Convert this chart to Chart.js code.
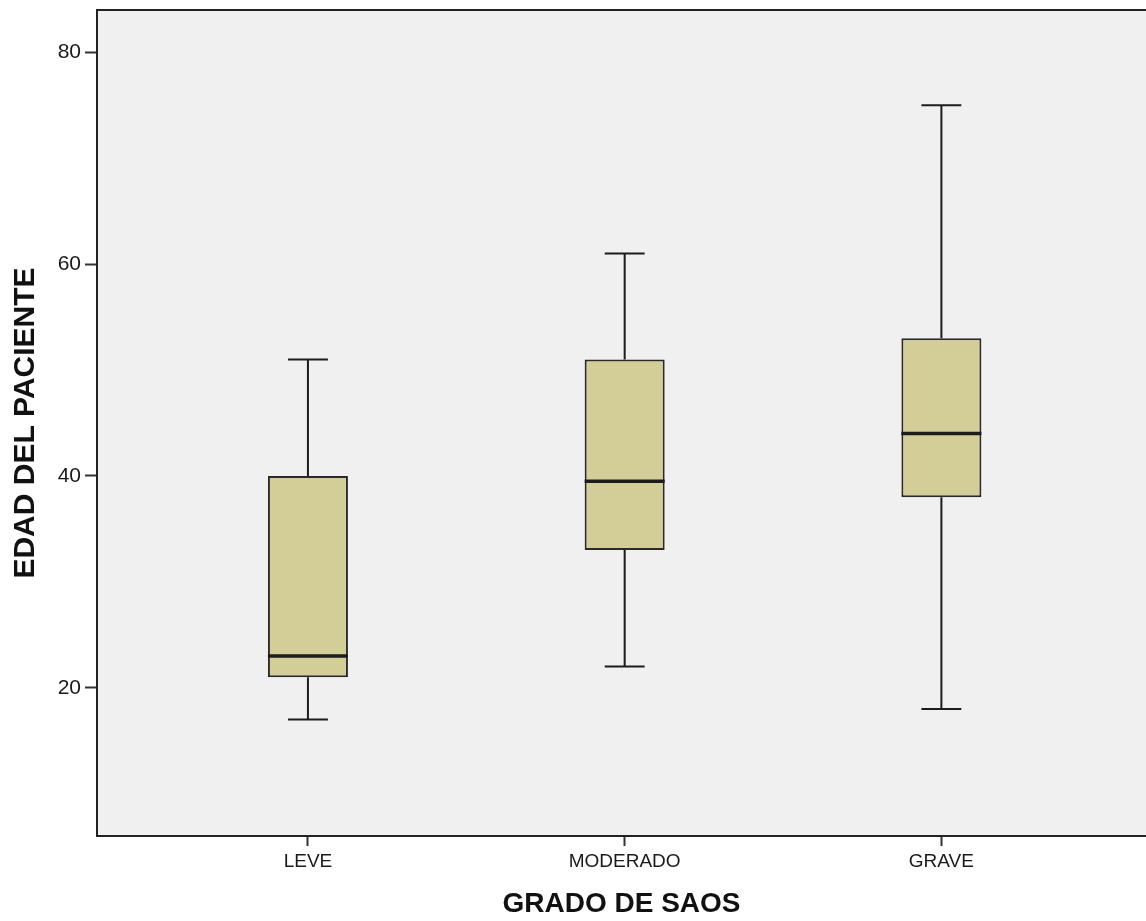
<!DOCTYPE html>
<html>
<head>
<meta charset="utf-8">
<script src="https://cdn.jsdelivr.net/npm/chart.js@4.4.1/dist/chart.umd.min.js"></script>
<style>
  html, body { margin:0; padding:0; background:#fff; }
  #wrap { width:1146px; height:921px; position:relative; }
</style>
</head>
<body>
<div id="wrap"><canvas id="chart"></canvas></div>
<script>
// Datos
const categorias = ['LEVE', 'MODERADO', 'GRAVE'];
const minimos  = [17, 22, 18];
const q1       = [21, 33, 38];
const medianas = [23, 39.5, 44];
const q3       = [40, 51, 53];
const maximos  = [51, 61, 75];
const yTicks   = [20, 40, 60, 80];

// estilo
const BOX_FRAC = 0.2526;     // ancho de caja respecto a la separacion entre categorias
const CAP_HALF = 0.063;      // medio ancho de los topes
const LINE = '#1c1c1c';
const FONT = '"Liberation Sans", Arial, sans-serif';

const boxes = categorias.map((c, i) => ({ x: i, y: [q1[i], q3[i]] }));
const whiskers = [], caps = [], meds = [];
categorias.forEach((c, i) => {
  whiskers.push({x:i, y:q3[i]}, {x:i, y:maximos[i]}, {x:i, y:null});
  whiskers.push({x:i, y:q1[i]}, {x:i, y:minimos[i]}, {x:i, y:null});
  caps.push({x:i-CAP_HALF, y:maximos[i]}, {x:i+CAP_HALF, y:maximos[i]}, {x:i, y:null});
  caps.push({x:i-CAP_HALF, y:minimos[i]}, {x:i+CAP_HALF, y:minimos[i]}, {x:i, y:null});
  meds.push({x:i-BOX_FRAC/2, y:medianas[i]}, {x:i+BOX_FRAC/2, y:medianas[i]}, {x:i, y:null});
});

const frame = {
  id: 'frame',
  beforeDraw(chart) {
    const { ctx, chartArea: a } = chart;
    ctx.save(); ctx.fillStyle = '#f0f0f0';
    ctx.fillRect(a.left, a.top, a.right - a.left, a.bottom - a.top);
    ctx.restore();
  },
  afterDraw(chart) {
    const { ctx, chartArea: a } = chart;
    ctx.save(); ctx.strokeStyle = '#222'; ctx.lineWidth = 2;
    ctx.beginPath(); ctx.moveTo(a.left - 1, a.top); ctx.lineTo(a.right, a.top); ctx.stroke();
    ctx.restore();
  }
};

const lineDs = (data, w) => ({ type:'line', data, borderColor:LINE, borderWidth:w, pointRadius:0, spanGaps:false, fill:false, order:0, tension:0 });

new Chart(document.getElementById('chart'), {
  type: 'bar',
  data: {
    datasets: [
      { data: boxes, backgroundColor:'#d3ce97', borderColor:'#2a2a2a', borderWidth:2, borderSkipped:false,
        categoryPercentage:1, barPercentage:BOX_FRAC, order:1 },
      lineDs(whiskers, 2),
      lineDs(caps, 2),
      lineDs(meds, 3.5)
    ]
  },
  options: {
    responsive:true, maintainAspectRatio:false, animation:false,
    layout: { padding: { top:10, right:0, left:0, bottom:0 } },
    plugins: { legend:{ display:false }, tooltip:{ enabled:false } },
    scales: {
      x: {
        type:'linear', min:-0.666, max:2.646, offset:false,
        afterBuildTicks: s => { s.ticks = categorias.map((c, i) => ({ value:i })); },
        afterFit: s => { s.height = 85; s.paddingLeft = 0; s.paddingRight = 0; },
        ticks: { callback: v => categorias[v], color:'#1a1a1a', padding:4,
                 font:{ family:FONT, size:19 }, maxRotation:0 },
        grid: { offset:false, drawOnChartArea:false, drawTicks:true, tickLength:10, tickColor:'#333', tickWidth:2 },
        border: { display:true, color:'#222', width:2 },
        title: { display:true, text:'GRADO DE SAOS', color:'#111', padding:{ top:0, bottom:0 },
                 font:{ family:FONT, size:28, weight:'bold' } }
      },
      y: {
        min:6, max:84,
        afterBuildTicks: s => { s.ticks = yTicks.map(v => ({ value:v })); },
        afterFit: s => { s.width = 97; s.paddingTop = 0; s.paddingBottom = 0; },
        ticks: { color:'#1a1a1a', padding:4, font:{ family:FONT, size:21 } },
        grid: { drawOnChartArea:false, drawTicks:true, tickLength:12, tickColor:'#333', tickWidth:2 },
        border: { display:true, color:'#222', width:2 },
        title: { display:true, text:'EDAD DEL PACIENTE', color:'#111', padding:{ top:8, bottom:0 },
                 font:{ family:FONT, size:30, weight:'bold' } }
      }
    }
  },
  plugins: [frame]
});
</script>
</body>
</html>
